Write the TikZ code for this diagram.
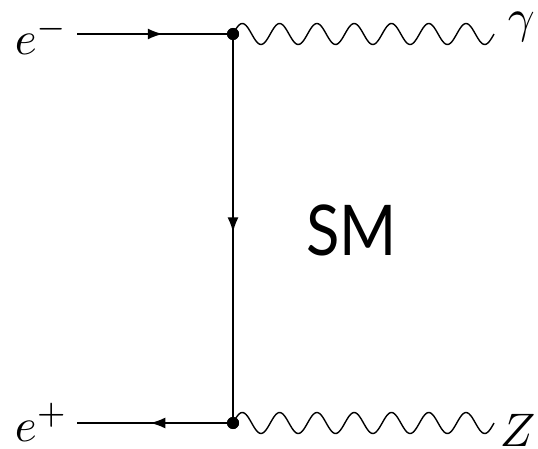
\documentclass[tikz,border=0pt]{standalone}
\usepackage{fontspec}
\setsansfont{Lato}
\usetikzlibrary{decorations.markings,arrows.meta}
\begin{document}
\begin{tikzpicture}[x=1pt,y=-1pt,
  fermion/.style={line width=1.8pt,postaction={decorate},
    decoration={markings,mark=at position #1 with {\arrow{Latex[length=15pt,width=11pt]}}}},
  photon/.style={line width=1.4pt,line join=round},
  vertexdot/.style={circle,fill=black,inner sep=0pt,minimum size=12pt},
  mathlabel/.style={inner sep=0pt,scale=4.7,anchor=base west},
  smlabel/.style={font=\sffamily\fontsize{70}{70}\selectfont,inner sep=0pt,xscale=0.88}]
\useasboundingbox (0,0) rectangle (538,449);
% vertices
\node[vertexdot] (v1) at (233,34) {};
\node[vertexdot] (v2) at (233,423) {};
% free ends
\coordinate (inL) at (77,34);
\coordinate (outL) at (77,423);
% fermion lines
\draw[fermion=0.55] (inL) -- (v1.center);
\draw[fermion=0.51] (v1.center) -- (v2.center);
\draw[fermion=0.53] (v2.center) -- (outL);
% photon lines
\draw[photon,shift={(v1.center)}] plot[domain=0:261,samples=200] (\x,{-10.5*sin(\x/37.29*360)});
\draw[photon,shift={(v2.center)}] plot[domain=0:261,samples=200] (\x,{-10.5*sin(\x/37.29*360)});
\node[vertexdot] at (v1) {};
\node[vertexdot] at (v2) {};
% labels
\node[mathlabel] (em) at (14,55) {$e^-$};
\node[mathlabel] (ep) at (14,441) {$e^+$};
\node[mathlabel] (ga) at (507,33) {$\gamma$};
\node[mathlabel] (zz) at (499,446) {$Z$};
\node[smlabel] (sm) at (351.5,230) {SM};
\end{tikzpicture}
\end{document}
